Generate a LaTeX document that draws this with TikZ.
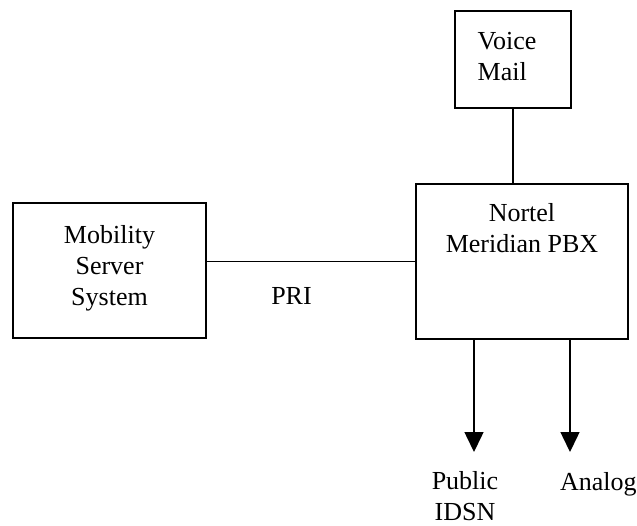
\documentclass[tikz,border=0pt]{standalone}
\usepackage{fontspec}
\setmainfont{Liberation Serif}
\usetikzlibrary{arrows.meta}
\begin{document}
\begin{tikzpicture}[x=0.5pt,y=-0.5pt,
  box/.style={draw, line width=0.75pt, inner sep=0pt, outer sep=0pt},
  lbl/.style={font=\fontsize{13}{15.5}\selectfont, inner sep=0pt, outer sep=0pt, align=center},
  conn/.style={line width=0.75pt},
  arr/.style={line width=0.75pt, -{Triangle[width=9.5pt,length=10pt]}}]
\useasboundingbox (0,0) rectangle (637,525);
% boxes
\node[box, minimum width=96.5pt, minimum height=67.5pt] (mob) at (109.5,270.5) {};
\node[box, minimum width=58pt, minimum height=48.5pt] (vm) at (513,59.5) {};
\node[box, minimum width=106pt, minimum height=77.5pt] (pbx) at (522,261.5) {};
% texts
\node[lbl] (mobt) at (109.5,268) {Mobility\\Server\\System};
\node[lbl, align=left] (vmt) at (507,57) {Voice\\Mail};
\node[lbl] (pbxt) at (522,228.5) {Nortel\\Meridian PBX};
\node[lbl] (idsn) at (465,496.5) {Public\\IDSN};
\node[lbl, anchor=base west] (analog) at (560,490) {Analog};
\node[lbl, anchor=base] (pri) at (291.5,304) {PRI};
% arrow tips
\coordinate (tip1) at (474,452);
\coordinate (tip2) at (570,452);
% connectors
\draw[conn] (vm.south) -- (vm.south |- pbx.north);
\draw[conn] (mob.east |- pbx.west) -- (pbx.west);
\draw[arr] (pbx.south -| tip1) -- (tip1);
\draw[arr] (pbx.south -| tip2) -- (tip2);
\end{tikzpicture}
\end{document}
